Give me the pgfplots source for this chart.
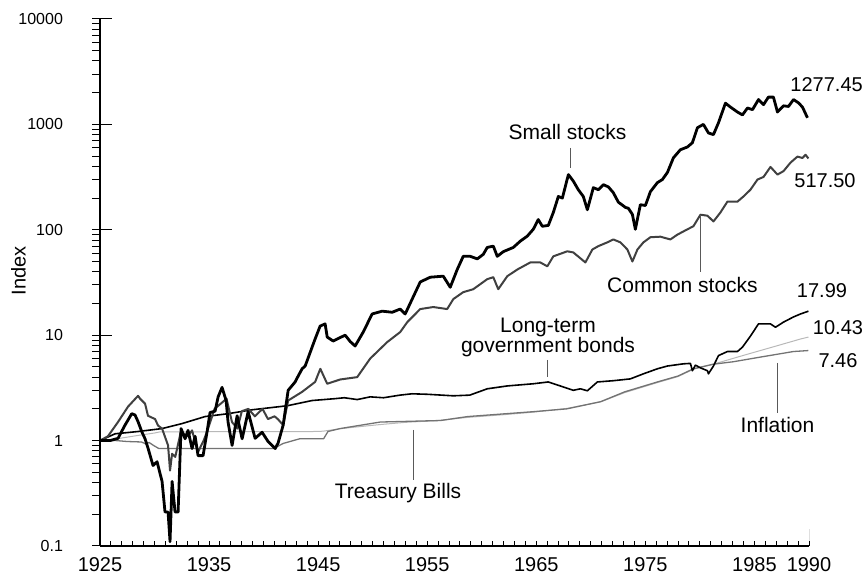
\documentclass[border=0pt]{standalone}
\usepackage{fontspec}
\setmainfont{Liberation Sans}
\usepackage{pgfplots}
\pgfplotsset{compat=1.18}
\definecolor{cstock}{gray}{0.25}
\definecolor{tbill}{gray}{0.72}
\definecolor{infl}{gray}{0.45}
\definecolor{leader}{gray}{0.35}
\begin{document}
\begin{tikzpicture}
\useasboundingbox (0pt,0pt) rectangle (434pt,288pt);
% ---------- y axis only ----------
\begin{axis}[at={(50pt,15pt)}, anchor=south west, scale only axis,
  width=354.5pt, height=263.5pt,
  xmin=1925, xmax=1990, ymode=log, ymin=0.1, ymax=10000,
  axis x line=none, axis y line*=left, axis line style={-, line width=0.6pt},
  ytick={0.1,1,10,100,1000,10000}, yticklabels={0.1,1,10,100,1000,10000},
  minor ytick={0.2,0.3,0.4,0.5,0.6,0.7,0.8,0.9,2,3,4,5,6,7,8,9,20,30,40,50,60,70,80,90,200,300,400,500,600,700,800,900,2000,3000,4000,5000,6000,7000,8000,9000},
  tick align=outside, major tick length=10pt, minor tick length=4pt,
  every major tick/.append style={xshift=6pt},
  tick style={black, line width=0.5pt},
  yticklabel style={font=\fontsize{8}{9}\selectfont, xshift=-5pt},
]
\end{axis}
% ---------- data + x axis ----------
\begin{axis}[at={(50pt,15pt)}, anchor=south west, scale only axis,
  width=354.5pt, height=263.5pt,
  xmin=1925, xmax=1990, ymode=log, ymin=0.1, ymax=10000,
  axis y line=none, axis x line*=bottom, axis line style={-, line width=0.6pt},
  xtick={1925,1935,1945,1955,1965,1975,1985,1990},
  xticklabels={1925,1935,1945,1955,1965,1975,1985,1990},
  minor xtick={1926,1927,...,1989},
  tick align=outside, major tick length=2.5pt, minor tick length=2.5pt,
  every major tick/.append style={yshift=2.5pt},
  every minor tick/.append style={yshift=2.5pt},
  tick style={black, line width=0.5pt},
  xticklabel style={font=\fontsize{10}{12}\selectfont, yshift=0.5pt},
  every axis plot/.append style={line join=round},
]
% Treasury bills
\addplot[tbill, line width=0.5pt] coordinates {
(1925.00,1.0) (1926.8,1.05) (1928.5,1.12) (1930.0,1.18) (1930.5,1.21) (1945.0,1.22)
(1945.5,1.23) (1946.9,1.29) (1948.0,1.33) (1950.7,1.42) (1953.0,1.49) (1956.0,1.55)
(1958.7,1.66) (1962.0,1.76) (1964.7,1.86) (1967.8,2.02) (1970.9,2.33) (1973.1,2.85)
(1976.1,3.55) (1978.0,4.05) (1979.4,4.75) (1981.2,5.3) (1984.36,6.6) (1987.0,7.9)
(1989.22,9.2) (1989.95,9.6)};
% Inflation
\addplot[infl, line width=0.65pt] coordinates {
(1925.00,1.0) (1926.5,1.0) (1927.5,0.98) (1928.8,0.97) (1929.2,0.93) (1929.5,0.96)
(1929.9,0.9) (1930.4,0.84) (1940.9,0.84) (1941.8,0.94) (1943.3,1.04) (1945.5,1.04)
(1945.9,1.22) (1947.0,1.3) (1950.7,1.5) (1956.2,1.55) (1958.7,1.69) (1964.7,1.88)
(1967.8,2.0) (1970.9,2.34) (1973.1,2.9) (1976.1,3.6) (1978.0,4.1) (1979.4,4.8)
(1981.2,5.3) (1983.07,5.6) (1985.55,6.2) (1988.58,7.0) (1989.95,7.15)};
% Long-term government bonds
\addplot[black, line width=0.8pt] coordinates {
(1925.00,1.0) (1926.38,1.16) (1928.5,1.22) (1930.69,1.3) (1932.52,1.45) (1934.63,1.69)
(1936.74,1.8) (1938.94,1.96) (1942.16,2.14) (1944.45,2.4) (1946.56,2.5) (1947.4,2.55)
(1948.58,2.45) (1949.77,2.6) (1951.0,2.55) (1952.5,2.7) (1953.6,2.78) (1955.0,2.75)
(1957.39,2.66) (1958.9,2.7) (1960.50,3.1) (1962.34,3.3) (1964.72,3.46) (1966.10,3.6)
(1967.20,3.3) (1968.39,3.0) (1969.04,3.1) (1969.68,2.97) (1970.60,3.6) (1972.06,3.7)
(1973.62,3.85) (1974.82,4.3) (1976.10,4.8) (1977.02,5.1) (1978.49,5.35) (1979.13,5.4)
(1979.31,4.6) (1979.59,5.2) (1980.05,4.9) (1980.69,4.6) (1980.78,4.3) (1981.24,5.1)
(1981.70,6.4) (1982.52,7.0) (1983.44,7.0) (1983.90,7.7) (1984.63,9.8) (1985.37,12.8)
(1986.47,12.8) (1986.93,11.9) (1987.66,13.3) (1988.58,14.9) (1989.22,15.9) (1989.95,16.9)};
% Common stocks
\addplot[cstock, line width=1pt] coordinates {
(1925.00,1.0) (1925.73,1.1) (1926.65,1.5) (1927.57,2.1) (1928.49,2.66) (1928.67,2.5)
(1929.13,2.24) (1929.40,1.72) (1930.05,1.6) (1930.32,1.39) (1930.69,1.3) (1931.24,0.9)
(1931.42,0.52) (1931.61,0.75) (1931.9,0.7) (1932.4,1.2) (1933.07,1.1) (1933.44,1.25)
(1933.99,0.78) (1934.5,1.0) (1934.82,1.22) (1935.5,2.0) (1936.2,2.3) (1936.6,2.5)
(1937.1,1.5) (1937.6,1.3) (1938.0,1.9) (1938.6,2.0) (1939.2,1.7) (1939.9,2.0)
(1940.4,1.6) (1941.0,1.7) (1941.3,1.6) (1941.8,1.4) (1942.25,2.4) (1943.53,2.9)
(1944.72,3.6) (1945.2,4.8) (1945.83,3.46) (1947.02,3.8) (1948.58,4.0) (1949.77,6.0)
(1951.33,8.6) (1952.52,10.7) (1953.17,13.3) (1954.36,17.7) (1955.55,18.5) (1956.83,17.7)
(1957.39,22) (1958.30,25.6) (1959.22,27.3) (1960.50,34) (1961.06,35.5) (1961.51,27.3)
(1962.34,36.3) (1963.26,42) (1964.45,49) (1965.37,49) (1966.01,45) (1966.56,56)
(1967.84,62.5) (1968.39,61) (1969.50,49) (1970.14,65) (1970.69,70) (1971.51,76)
(1972.06,81) (1972.71,76) (1973.35,65) (1973.81,50) (1974.27,65) (1974.82,76)
(1975.46,85) (1976.38,86) (1977.29,81) (1977.94,90) (1978.85,101) (1979.40,108)
(1980.05,139) (1980.69,136) (1981.24,120) (1981.88,146) (1982.52,185) (1983.44,185)
(1983.99,207) (1984.63,240) (1985.28,300) (1985.83,317) (1986.47,395) (1987.11,334)
(1987.66,360) (1988.30,433) (1988.94,495) (1989.40,480) (1989.68,515) (1989.95,475)};
% Small stocks
\addplot[black, line width=1.4pt] coordinates {
(1925.00,1.0) (1925.92,1.0) (1926.65,1.05) (1927.29,1.4) (1927.91,1.80) (1928.21,1.75)
(1928.49,1.51) (1928.85,1.2) (1929.13,1.04) (1929.40,0.85) (1929.86,0.58) (1930.23,0.63)
(1930.69,0.41) (1930.96,0.21) (1931.24,0.21) (1931.42,0.11) (1931.61,0.41) (1931.88,0.21)
(1932.16,0.21) (1932.43,1.3) (1932.80,1.04) (1933.07,1.25) (1933.44,0.84) (1933.72,1.1)
(1933.99,0.72) (1934.45,0.72) (1934.82,1.22) (1935.09,1.85) (1935.55,1.9) (1935.83,2.6)
(1936.19,3.2) (1936.56,2.4) (1936.74,1.5) (1937.11,0.9) (1937.57,1.72) (1938.03,1.04)
(1938.58,1.88) (1939.22,1.05) (1939.86,1.2) (1940.41,0.98) (1941.06,0.84) (1941.33,0.95)
(1941.79,1.4) (1942.25,3.0) (1942.89,3.6) (1943.17,4.1) (1943.53,4.8) (1943.81,5.1)
(1944.72,9.2) (1945.18,12.2) (1945.64,12.8) (1945.83,9.6) (1946.38,8.8) (1947.02,9.5)
(1947.48,10) (1947.94,8.7) (1948.39,7.9) (1949.13,10.7) (1949.95,15.9) (1950.87,16.9)
(1951.79,16.5) (1952.52,17.7) (1952.98,15.9) (1953.62,22) (1954.36,32) (1955.28,35.5)
(1956.47,36.3) (1957.11,28.5) (1957.75,42) (1958.30,56) (1958.94,56) (1959.59,53)
(1960.14,58.5) (1960.50,68) (1961.06,70) (1961.42,56) (1961.97,62) (1962.89,68)
(1963.53,78) (1964.17,87) (1964.72,101) (1965.18,125) (1965.55,108) (1966.10,110)
(1966.56,146) (1967.02,207) (1967.39,200) (1967.94,334) (1968.39,290) (1968.85,240)
(1969.31,207) (1969.68,155) (1970.23,251) (1970.69,240) (1971.15,268) (1971.61,255)
(1972.06,225) (1972.52,183) (1973.17,163) (1973.44,160) (1973.81,140) (1974.08,101)
(1974.54,173) (1975.00,170) (1975.46,230) (1976.10,280) (1976.56,300) (1977.02,350)
(1977.57,482) (1978.21,575) (1978.85,610) (1979.31,670) (1979.77,930) (1980.32,1000)
(1980.78,830) (1981.24,800) (1981.70,1035) (1982.34,1590) (1982.80,1460) (1983.44,1310)
(1983.90,1230) (1984.36,1430) (1984.82,1380) (1985.37,1720) (1985.83,1540) (1986.28,1815)
(1986.74,1815) (1987.11,1310) (1987.66,1500) (1988.12,1480) (1988.58,1720) (1989.04,1600)
(1989.40,1460) (1989.86,1155)};
\draw[line width=0.5pt] (axis cs:1990,0.1) -- ++(0pt,8.5pt);
\end{axis}
% ---------- labels ----------
\node[rotate=90, font=\fontsize{10}{12}\selectfont] at (9.25pt,152.5pt) {Index};
\begin{scope}[every node/.style={inner sep=0pt, anchor=base, font=\fontsize{10.5}{12}\selectfont}]
\node at (283.75pt,218pt) {Small stocks};
\node at (341.25pt,141.5pt) {Common stocks};
\node at (274pt,121.5pt) {Long-term};
\node at (274pt,111.5pt) {government bonds};
\node at (199pt,38.6pt) {Treasury Bills};
\node at (388.75pt,71.5pt) {Inflation};
\end{scope}
\begin{scope}[every node/.style={inner sep=0pt, anchor=base, font=\fontsize{10}{12}\selectfont}]
\node at (413.3pt,242pt) {1277.45};
\node at (412.5pt,194pt) {517.50};
\node at (411pt,139pt) {17.99};
\node at (419pt,120.5pt) {10.43};
\node at (419pt,104pt) {7.46};
\end{scope}
\begin{scope}[leader, line width=0.5pt]
\draw (285pt,214pt) -- (285pt,204pt);
\draw (350pt,180.5pt) -- (350pt,152pt);
\draw (273.5pt,108pt) -- (273.5pt,99.5pt);
\draw (206.5pt,73pt) -- (206.5pt,48pt);
\draw (388.7pt,106.5pt) -- (388.7pt,81.5pt);
\end{scope}
\end{tikzpicture}
\end{document}
